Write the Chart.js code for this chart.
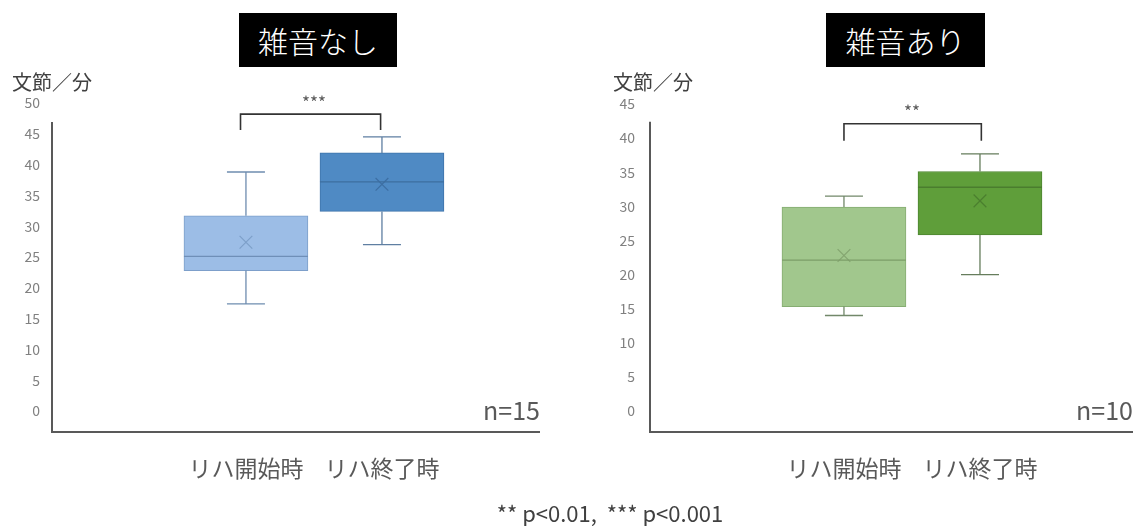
<!DOCTYPE html>
<html>
<head>
<meta charset="utf-8">
<script src="https://cdn.jsdelivr.net/npm/chart.js@4/dist/chart.umd.min.js"></script>
<style>
  body { margin: 0; background: #fff; font-family: "Noto Sans CJK JP", "Noto Sans", sans-serif; }
  #page { position: relative; width: 1133px; height: 526px; overflow: hidden; background: #fff; }
  .panel { position: absolute; top: 0; }
  .title { position: absolute; top: 13px; height: 54px; background: #000; color: #fff;
           font-size: 30px; line-height: 54px; text-align: center; font-weight: 300; }
  .unit { position: absolute; top: 69px; font-size: 20px; line-height: 26px; color: #404040; }
  .count { position: absolute; top: 394px; width: 110px; font-size: 25px; line-height: 30px;
           color: #595959; text-align: right; }
  .note { position: absolute; left: 400px; top: 498px; width: 420px; font-size: 22px;
          line-height: 28px; color: #404040; text-align: center; }
</style>
</head>
<body>
<div id="page">
  <div class="panel" style="left:0;width:566px;"><canvas id="quietChart" width="566" height="526"></canvas></div>
  <div class="panel" style="left:566px;width:580px;"><canvas id="noisyChart" width="580" height="526"></canvas></div>

  <div class="title" style="left:239px;width:158px;">雑音なし</div>
  <div class="title" style="left:826px;width:159px;">雑音あり</div>

  <div class="unit" style="left:12px;">文節／分</div>
  <div class="unit" style="left:613px;">文節／分</div>

  <div class="count" style="left:430px;">n=15</div>
  <div class="count" style="left:1023px;">n=10</div>

  <div class="note">** p&lt;0.01,&nbsp;&nbsp;*** p&lt;0.001</div>
</div>

<script>
// Categories shared by both panels
const categories = ['リハ開始時', 'リハ終了時'];

// 雑音なし (n=15): five-number summary and mean, 文節／分
const quietMin    = [17.4, 27.0];
const quietQ1     = [22.8, 32.4];
const quietMedian = [25.1, 37.2];
const quietQ3     = [31.7, 41.9];
const quietMax    = [38.8, 44.5];
const quietMean   = [27.4, 36.8];
const quietTicks  = [0, 5, 10, 15, 20, 25, 30, 35, 40, 45, 50];
const quietSig    = '***';

// 雑音あり (n=10)
const noisyMin    = [14.0, 20.0];
const noisyQ1     = [15.3, 25.8];
const noisyMedian = [22.1, 32.8];
const noisyQ3     = [29.9, 35.1];
const noisyMax    = [31.5, 37.7];
const noisyMean   = [22.8, 30.8];
const noisyTicks  = [0, 5, 10, 15, 20, 25, 30, 35, 40, 45];
const noisySig    = '**';

const FONT = '"Noto Sans CJK JP", "Noto Sans", sans-serif';

// Whiskers, medians, axis lines and the significance bracket
const boxParts = {
  id: 'boxParts',
  afterDatasetsDraw(chart, args, o) {
    const { ctx, scales: { x, y } } = chart;
    ctx.save();
    ctx.lineWidth = 1.3;
    o.q1.forEach((_, i) => {
      const cx = x.getPixelForValue(i + 1);
      ctx.strokeStyle = o.whisker[i];
      ctx.beginPath();
      ctx.moveTo(cx, y.getPixelForValue(o.q3[i]));
      ctx.lineTo(cx, y.getPixelForValue(o.max[i]));
      ctx.moveTo(cx - o.cap, y.getPixelForValue(o.max[i]));
      ctx.lineTo(cx + o.cap, y.getPixelForValue(o.max[i]));
      ctx.moveTo(cx, y.getPixelForValue(o.q1[i]));
      ctx.lineTo(cx, y.getPixelForValue(o.min[i]));
      ctx.moveTo(cx - o.cap, y.getPixelForValue(o.min[i]));
      ctx.lineTo(cx + o.cap, y.getPixelForValue(o.min[i]));
      ctx.stroke();
      ctx.strokeStyle = o.medianColor[i];
      ctx.beginPath();
      ctx.moveTo(cx - o.half, y.getPixelForValue(o.median[i]));
      ctx.lineTo(cx + o.half, y.getPixelForValue(o.median[i]));
      ctx.stroke();
    });
    ctx.restore();
  },
  afterDraw(chart, args, o) {
    const { ctx, chartArea: a, scales: { x, y } } = chart;
    ctx.save();
    // axis lines
    ctx.strokeStyle = '#595959';
    ctx.lineWidth = 2;
    ctx.beginPath();
    ctx.moveTo(a.left, y.getPixelForValue(o.axisTop));
    ctx.lineTo(a.left, a.bottom);
    ctx.lineTo(a.right, a.bottom);
    ctx.stroke();
    // bracket
    const x1 = x.getPixelForValue(o.bracketX[0]);
    const x2 = x.getPixelForValue(o.bracketX[1]);
    const yTop = y.getPixelForValue(o.bracketY[1]);
    const yLeg = y.getPixelForValue(o.bracketY[0]);
    ctx.strokeStyle = '#333333';
    ctx.lineWidth = 1.6;
    ctx.beginPath();
    ctx.moveTo(x1, yLeg);
    ctx.lineTo(x1, yTop);
    ctx.lineTo(x2, yTop);
    ctx.lineTo(x2, yLeg);
    ctx.stroke();
    ctx.fillStyle = '#595959';
    ctx.font = '17px ' + FONT;
    ctx.textAlign = 'center';
    ctx.textBaseline = 'middle';
    ctx.fillText(o.sig, (x.getPixelForValue(1) + x.getPixelForValue(2)) / 2, yTop - 12);
    ctx.restore();
  }
};

function boxChart(id, s) {
  return new Chart(document.getElementById(id), {
    type: 'bar',
    data: {
      datasets: [
        {
          type: 'bar',
          data: categories.map((c, i) => ({ x: i + 1, y: [s.q1[i], s.q3[i]] })),
          backgroundColor: s.fill,
          borderColor: s.edge,
          borderWidth: 1,
          borderSkipped: false,
          barThickness: 124,
          order: 2
        },
        {
          type: 'scatter',
          data: categories.map((c, i) => ({ x: i + 1, y: s.mean[i] })),
          pointStyle: 'crossRot',
          pointRadius: 9,
          borderColor: s.meanColor,
          borderWidth: 1.2,
          backgroundColor: 'transparent',
          order: 1
        }
      ]
    },
    options: {
      responsive: false,
      animation: false,
      events: [],
      layout: { padding: { top: s.padTop, right: s.padRight, left: 0, bottom: 0 } },
      scales: {
        x: {
          type: 'linear',
          offset: false,
          bounds: 'data',
          min: s.xMin, max: s.xMax,
          grid: { display: false, drawTicks: false, offset: false },
          border: { display: false },
          afterBuildTicks: sc => { sc.ticks = categories.map((c, i) => ({ value: i + 1 })); },
          afterFit: sc => { sc.height = 94; },
          ticks: {
            callback: v => categories[v - 1],
            autoSkip: false, maxRotation: 0,
            padding: 22,
            color: '#595959',
            font: { size: 23, family: FONT }
          }
        },
        y: {
          min: s.yMin, max: s.yMax,
          grid: { display: false, drawTicks: false },
          border: { display: false },
          afterBuildTicks: sc => { sc.ticks = s.ticks.map(v => ({ value: v })); },
          afterFit: sc => { sc.width = s.axisWidth; },
          ticks: {
            padding: s.tickPad,
            color: '#808080',
            font: { size: 14, family: FONT }
          }
        }
      },
      plugins: {
        legend: { display: false },
        tooltip: { enabled: false },
        boxParts: {
          q1: s.q1, q3: s.q3, min: s.min, max: s.max, median: s.median,
          whisker: s.whisker, medianColor: s.medianColor,
          cap: 19, half: 62,
          axisTop: s.axisTop,
          bracketX: s.bracketX, bracketY: s.bracketY, sig: s.sig
        }
      }
    },
    plugins: [boxParts]
  });
}

boxChart('quietChart', {
  q1: quietQ1, q3: quietQ3, min: quietMin, max: quietMax, median: quietMedian, mean: quietMean,
  ticks: quietTicks, yMin: -3.4, yMax: 50, axisTop: 46.9,
  xMin: -0.426, xMax: 3.162, padTop: 103, padRight: 26, axisWidth: 52, tickPad: 12,
  fill: ['#9cbde6', '#4f8ac4'], edge: ['#7d9fca', '#3f74aa'],
  whisker: ['#6f8db0', '#5f7fa2'], medianColor: ['#6f8fb8', '#3d6e9f'], meanColor: ['#7d9fc9', '#3d6fa3'],
  bracketX: [0.96, 1.99], bracketY: [45.6, 48.2], sig: quietSig
});

boxChart('noisyChart', {
  q1: noisyQ1, q3: noisyQ3, min: noisyMin, max: noisyMax, median: noisyMedian, mean: noisyMean,
  ticks: noisyTicks, yMin: -3.08, yMax: 45, axisTop: 42.4,
  xMin: -0.426, xMax: 3.125, padTop: 104, padRight: 13, axisWidth: 84, tickPad: 15,
  fill: ['#a1c78d', '#5f9e3a'], edge: ['#86ad72', '#4d8530'],
  whisker: ['#72886a', '#667d5c'], medianColor: ['#7d9e69', '#4a7d2e'], meanColor: ['#84a570', '#4b7f2f'],
  bracketX: [1, 2.01], bracketY: [39.6, 42.1], sig: noisySig
});
</script>
</body>
</html>
